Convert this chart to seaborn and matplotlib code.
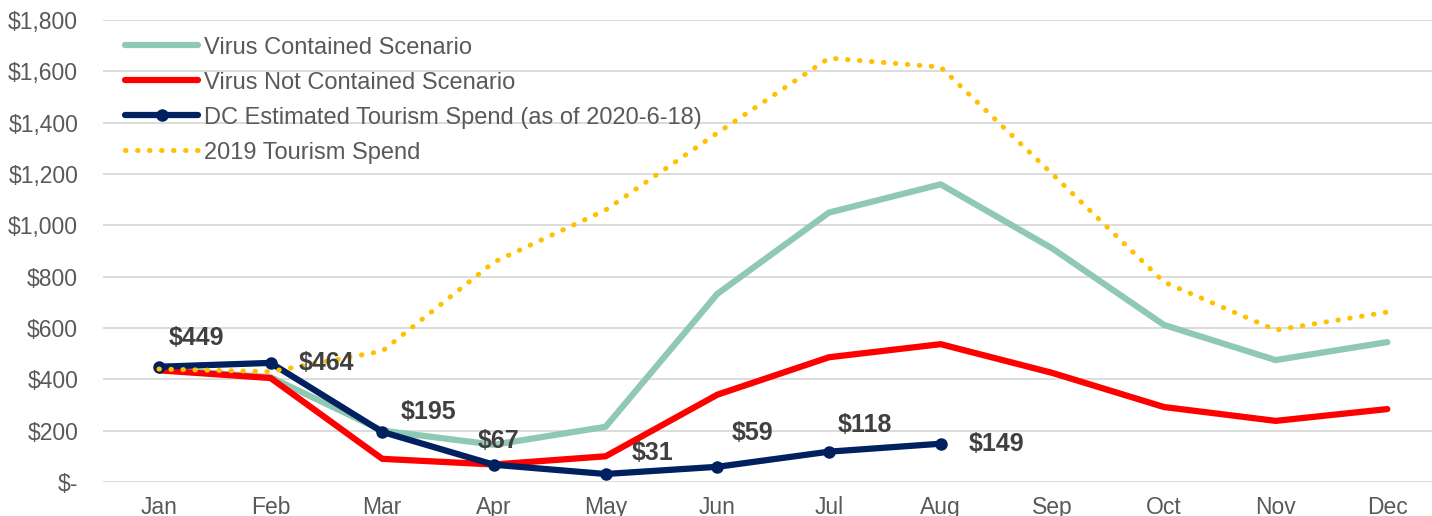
import numpy as np
import pandas as pd
import matplotlib
matplotlib.use("Agg")
import matplotlib.pyplot as plt
import seaborn as sns
from matplotlib.ticker import FuncFormatter

months = ['Jan', 'Feb', 'Mar', 'Apr', 'May', 'Jun', 'Jul', 'Aug', 'Sep', 'Oct', 'Nov', 'Dec']
contained = [440, 408, 200, 145, 215, 733, 1050, 1160, 910, 612, 475, 545]
not_contained = [435, 405, 90, 68, 100, 340, 486, 537, 425, 292, 238, 284]
dc_estimate = [449, 464, 195, 67, 31, 59, 118, 149]
spend_2019 = [440, 430, 510, 857, 1060, 1360, 1652, 1617, 1200, 779, 592, 662]

# label offsets in points (dx, dy) for the DC series
label_offsets = [(27, 21), (40, 0), (33, 14), (3, 17), (34, 15), (25, 24), (26, 19), (40, 0)]

sns.set_theme(style="white")
plt.rcParams['font.family'] = ['Liberation Sans', 'DejaVu Sans']

fig, ax = plt.subplots(figsize=(14.32, 5.16), dpi=100)
fig.subplots_adjust(left=0.072, right=1.0, bottom=0.066, top=0.961)

x_all = np.arange(len(months))
x_dc = np.arange(len(dc_estimate))

sns.lineplot(x=x_all, y=contained, ax=ax, color='#8FC9B4', linewidth=4.5,
             label='Virus Contained Scenario', solid_capstyle='round')
sns.lineplot(x=x_all, y=not_contained, ax=ax, color='#FF0000', linewidth=4.5,
             label='Virus Not Contained Scenario', solid_capstyle='round')
sns.lineplot(x=x_dc, y=dc_estimate, ax=ax, color='#002060', linewidth=4.5,
             marker='o', markersize=9, markeredgewidth=0,
             label='DC Estimated Tourism Spend (as of 2020-6-18)')
sns.lineplot(x=x_all, y=spend_2019, ax=ax, color='#FFC000', linewidth=3.6,
             linestyle=(0, (0.1, 2.3)), dash_capstyle='round',
             label='2019 Tourism Spend')

for i, v in enumerate(dc_estimate):
    dx, dy = label_offsets[i]
    ax.annotate(f'${v}', (i, v), xytext=(dx, dy), textcoords='offset points',
                ha='center', va='center', fontsize=18, fontweight='bold', color='#404040')

ax.set_xlim(-0.5, 11.4)
ax.set_ylim(0, 1800)
ax.set_yticks(range(0, 1801, 200))
ax.yaxis.set_major_formatter(FuncFormatter(lambda v, p: '$-' if v == 0 else f'${v:,.0f}'))
ax.set_xticks(x_all)
ax.set_xticklabels(months)
ax.tick_params(axis='both', labelsize=16.5, colors='#595959', length=0)
ax.tick_params(axis='x', pad=10)
ax.tick_params(axis='y', pad=18)
ax.grid(axis='y', color='#D9D9D9', linewidth=1.3)
ax.set_axisbelow(True)
for s in ax.spines.values():
    s.set_visible(False)

leg = ax.legend(loc='upper left', bbox_to_anchor=(0.006, 0.995), frameon=False, fontsize=17,
                handlelength=3.1, handletextpad=0.25, labelspacing=0.55, labelcolor='#595959',
                borderaxespad=0.2)

plt.savefig("out.png", dpi=100)
